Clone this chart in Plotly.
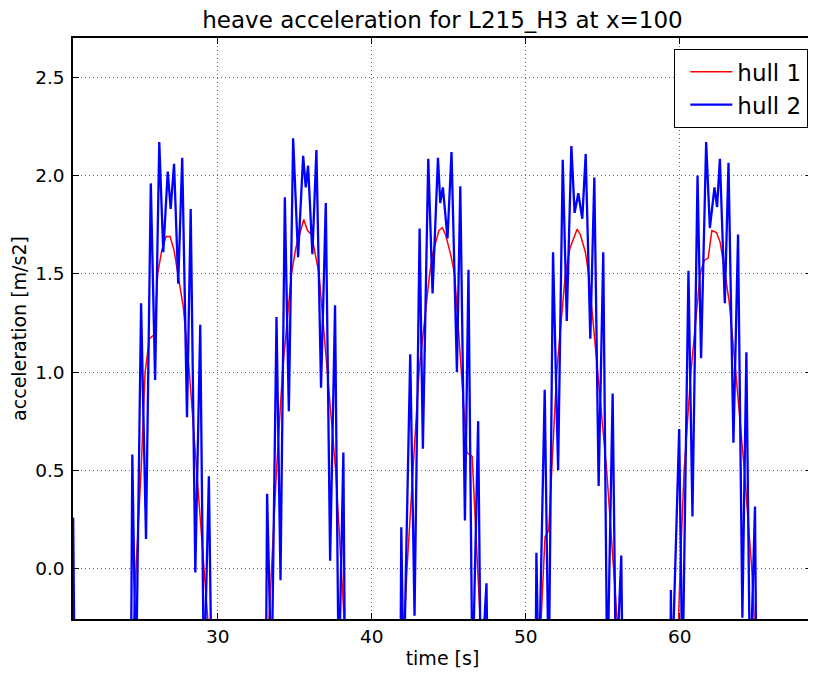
import plotly.graph_objects as go

# ---- data ----
# hull 2 (blue): time [s]
time_hull2 = [
    20.62, 20.72,
    24.37, 24.46, 24.70, 25.03, 25.35, 25.66, 25.94, 26.21, 26.47, 26.76, 26.95, 27.17,
    27.44, 27.70, 28.01, 28.25, 28.55, 28.87, 29.11, 29.43, 29.61,
    33.13, 33.21, 33.50, 33.82, 34.08, 34.36, 34.62, 34.90, 35.22, 35.55, 35.72, 35.87,
    36.15, 36.41, 36.71, 37.02, 37.30, 37.62, 37.86, 38.16, 38.27,
    41.86, 41.92, 42.07, 42.50, 42.78, 43.11, 43.32, 43.67, 43.95, 44.30, 44.45, 44.62,
    44.92, 45.18, 45.53, 45.75, 46.05, 46.28, 46.54, 46.91, 47.08, 47.45, 47.54,
    50.63, 50.69, 50.84, 51.23, 51.49, 51.77, 52.10, 52.40, 52.66, 52.96, 53.17, 53.41,
    53.67, 53.89, 54.19, 54.45, 54.73, 55.03, 55.29, 55.64, 55.86, 56.20, 56.29,
    59.38, 59.42, 59.48, 59.96, 60.17, 60.56, 60.82, 61.15, 61.38, 61.71, 61.95, 62.25,
    62.42, 62.60, 62.92, 63.16, 63.48, 63.78, 64.06, 64.32, 64.56, 64.88, 64.97,
    68.50, 68.60,
]
# hull 2 (blue): heave acceleration [m/s2]
acc_hull2 = [
    0.26, -0.60,
    -0.60, 0.58, -0.60, 1.35, 0.15, 1.96, 0.96, 2.17, 1.61, 2.02, 1.83, 2.06,
    1.45, 2.09, 0.77, 1.83, -0.02, 1.24, -0.60, 0.47, -0.60,
    -0.60, 0.38, -0.60, 1.28, -0.06, 1.89, 0.80, 2.19, 1.585, 2.10, 1.94, 2.05,
    1.60, 2.13, 0.92, 1.86, 0.04, 1.34, -0.60, 0.59, -0.60,
    -0.60, 0.21, -0.60, 1.09, -0.24, 1.73, 0.61, 2.085, 1.40, 2.09, 1.86, 1.94,
    1.68, 2.12, 1.00, 1.945, 0.245, 1.52, -0.60, 0.75, -0.60, -0.075, -0.60,
    -0.60, 0.08, -0.60, 0.91, -0.60, 1.61, 0.50, 2.08, 1.26, 2.15, 1.81, 1.91,
    1.78, 2.11, 1.17, 1.99, 0.42, 1.61, -0.60, 0.89, -0.60, 0.066, -0.60,
    -0.60, -0.11, -0.60, 0.71, -0.60, 1.515, 0.265, 2.00, 1.07, 2.17, 1.733, 1.94,
    1.84, 2.085, 1.35, 2.065, 0.64, 1.70, -0.25, 1.10, -0.60, 0.316, -0.60,
    -0.60, 0.53,
]

# hull 1 (red): time [s]
time_hull1 = [
    20.62, 20.80,
    24.42, 24.70, 25.03, 25.29, 25.57, 25.89, 26.11, 26.37, 26.65, 26.91, 27.17, 27.51,
    27.77, 28.16, 28.64, 29.11, 29.59,
    33.18, 33.50, 33.82, 34.21, 34.79, 35.07, 35.59, 35.83, 36.09, 36.58, 37.10, 37.66,
    38.03, 38.37,
    41.99, 42.29, 42.68, 43.07, 43.76, 43.97, 44.36, 44.58, 44.79, 45.12, 45.38, 45.81,
    46.18, 46.52, 46.89, 47.19,
    50.85, 51.25, 51.49, 51.68, 52.01, 52.57, 52.87, 53.33, 53.54, 53.87, 54.08, 54.67,
    55.25, 55.70, 56.14,
    59.82, 60.02, 60.28, 60.72, 61.32, 61.58, 61.84, 62.08, 62.38, 62.62, 62.94, 63.20,
    63.63, 64.19, 64.67, 64.97,
    68.45, 68.60,
]
# hull 1 (red): heave acceleration [m/s2]
acc_hull1 = [
    -0.22, -0.60,
    -0.50, 0.00, 0.50, 1.00, 1.17, 1.19, 1.50, 1.62, 1.69, 1.69, 1.62, 1.45,
    1.33, 1.00, 0.50, 0.00, -0.50,
    -0.50, 0.00, 0.50, 1.00, 1.50, 1.63, 1.776, 1.72, 1.70, 1.50, 1.00, 0.50,
    0.00, -0.50,
    -0.50, 0.00, 0.50, 1.00, 1.50, 1.605, 1.72, 1.735, 1.70, 1.60, 1.50, 1.00,
    0.59, 0.57, 0.00, -0.50,
    -0.50, 0.16, 0.195, 0.50, 1.00, 1.50, 1.63, 1.727, 1.70, 1.61, 1.50, 1.00,
    0.50, 0.00, -0.50,
    -0.50, 0.00, 0.50, 1.00, 1.50, 1.568, 1.58, 1.72, 1.71, 1.66, 1.50, 1.36,
    1.00, 0.50, 0.00, -0.50,
    -0.60, -0.22,
]

x_ticks = [30, 40, 50, 60]
y_ticks = [0.0, 0.5, 1.0, 1.5, 2.0, 2.5]
x_range = [20.61, 68.58]
y_range = [-0.257, 2.70]

FONT = "DejaVu Sans"

fig = go.Figure()
fig.add_trace(go.Scatter(x=time_hull1, y=acc_hull1, mode="lines", name="hull 1",
                         line=dict(color="#ff0000", width=1.5), legendgroup="a"))
fig.add_trace(go.Scatter(x=time_hull2, y=acc_hull2, mode="lines", name="hull 2",
                         line=dict(color="#0000ff", width=2.3), legendgroup="b"))

axis_common = dict(
    automargin=False,
    showline=True, linecolor="black", linewidth=1.5, mirror="allticks",
    ticks="inside", ticklen=6, tickwidth=1, tickcolor="black",
    showgrid=True, gridcolor="rgba(0,0,0,0.6)", gridwidth=1, griddash="1px,3px",
    zeroline=False, tickfont=dict(family=FONT, size=18.5, color="black"),
)

# the page body adds an 8 px offset, so the figure is 8 px smaller than the window
fig.update_layout(
    template="none",
    width=808, height=670,
    margin=dict(l=65, r=4, t=30, b=59, pad=0),
    paper_bgcolor="white", plot_bgcolor="white",
    font=dict(family=FONT, color="black"),
    title=dict(text="heave acceleration for L215_H3 at x=100",
               font=dict(family=FONT, size=23, color="black"),
               x=0.5, xref="paper", xanchor="center",
               y=0.982, yref="container", yanchor="middle"),
    xaxis=dict(range=x_range, tickvals=x_ticks, ticklabelstandoff=0,
               title=dict(text="time [s]", font=dict(family=FONT, size=19), standoff=6),
               **axis_common),
    yaxis=dict(range=y_range, tickvals=y_ticks, tickformat=".1f", ticklabelstandoff=3,
               title=dict(text="acceleration [m/s2]", font=dict(family=FONT, size=19), standoff=4),
               **axis_common),
    showlegend=True,
    legend=dict(x=0.9946, y=0.981, xanchor="right", yanchor="top",
                bgcolor="white", bordercolor="black", borderwidth=1.3,
                font=dict(family=FONT, size=23, color="black"),
                tracegroupgap=7, itemwidth=42, indentation=10,
                traceorder="normal"),
)

fig.write_html("out.html")
